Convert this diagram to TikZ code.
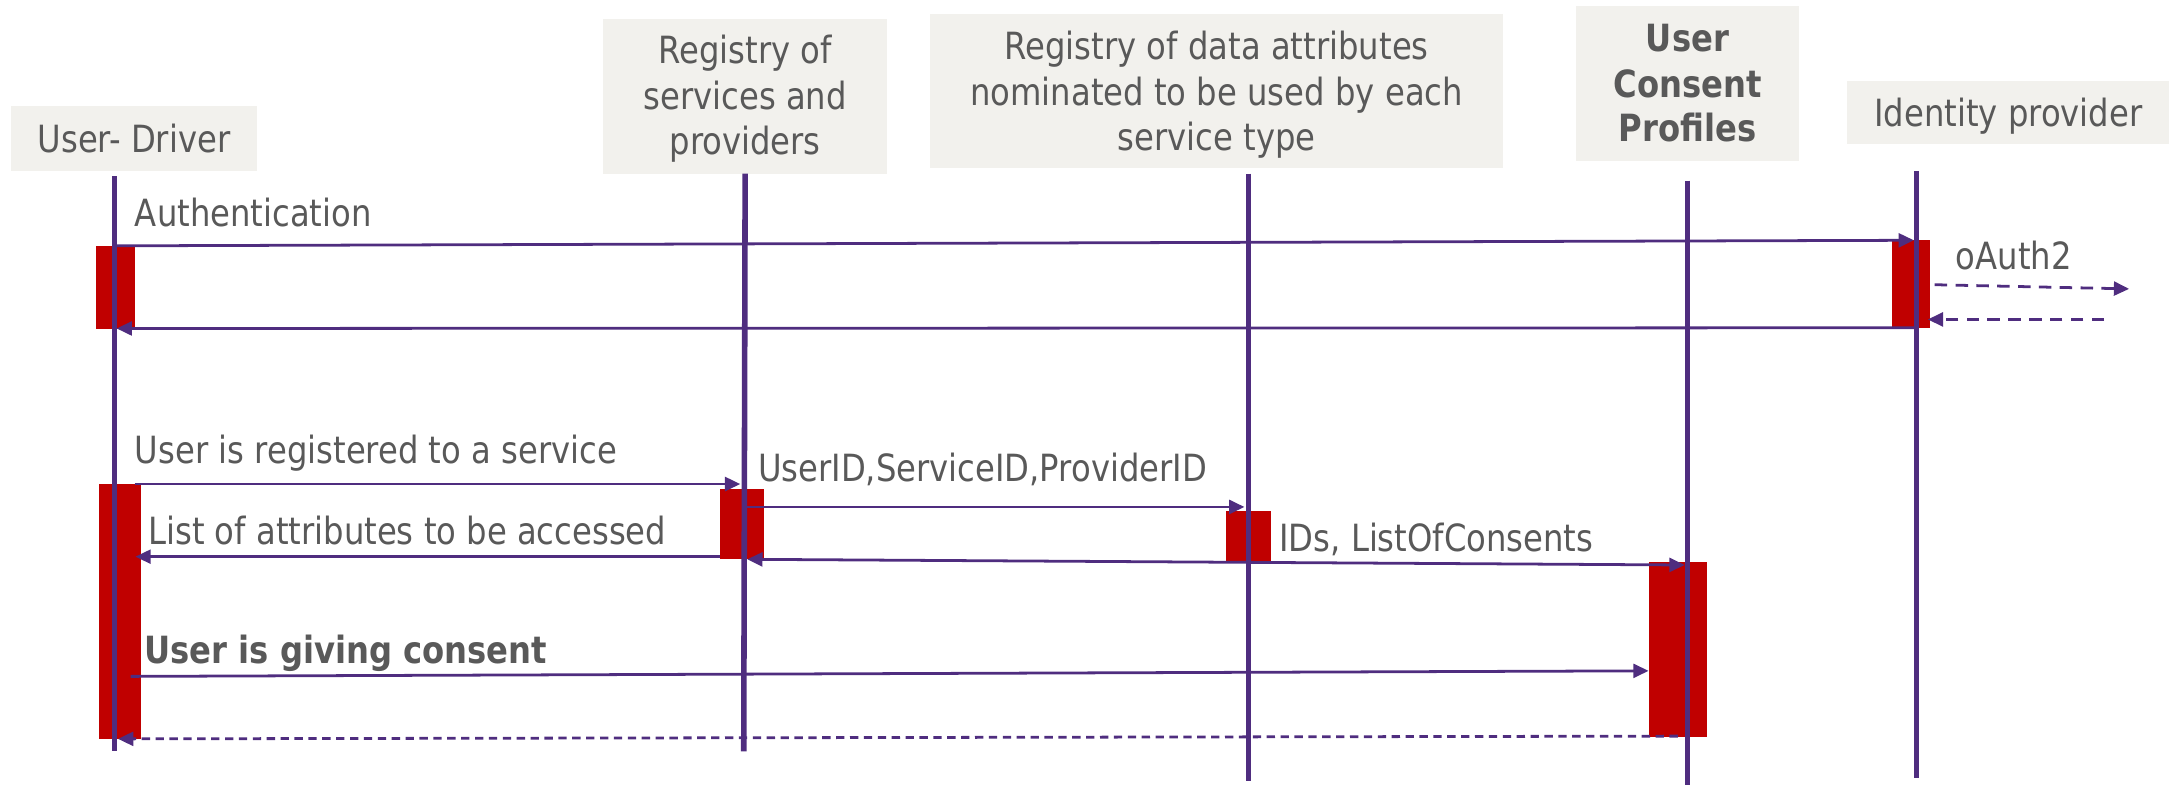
\documentclass[tikz,border=0pt]{standalone}
\usepackage{fontspec}
\setmainfont{DejaVu Sans}[FakeStretch=0.86]
\usetikzlibrary{arrows.meta}
\definecolor{lifec}{HTML}{4F2D7F}
\definecolor{actc}{HTML}{C00000}
\definecolor{boxc}{HTML}{F2F1ED}
\definecolor{txtc}{HTML}{595959}
\tikzset{
  hdr/.style={fill=boxc, draw=none, inner sep=0pt},
  lbl/.style={text=txtc, font=\fontsize{27}{33}\selectfont, inner sep=0pt, anchor=base},
  lblw/.style={lbl, anchor=base west},
  life/.style={draw=lifec, line width=4pt},
  act/.style={fill=actc, draw=none, inner sep=0pt},
  msg/.style={draw=lifec, line width=2pt, -{Triangle[length=11pt,width=10pt]}},
  dmsg/.style={msg, dash pattern=on 6pt off 4pt},
  dmsgb/.style={msg, dash pattern=on 9pt off 6pt},
}
\begin{document}
\begin{tikzpicture}[x=1pt,y=-1pt]
\useasboundingbox (0,0) rectangle (1568.9,565.2);

% header boxes
\node[hdr, minimum width=177pt, minimum height=47pt] (hU) at (96.5,99.5) {};
\node[hdr, minimum width=205pt, minimum height=111pt] (hS) at (536.5,69.5) {};
\node[hdr, minimum width=413pt, minimum height=111pt] (hD) at (876,65.5) {};
\node[hdr, minimum width=160pt, minimum height=112pt] (hC) at (1215,60) {};
\node[hdr, minimum width=232pt, minimum height=46pt] (hI) at (1446,81) {};

% header texts
\node[lbl] (tU) at (96.5,110) {User- Driver};
\node[lbl] (tS1) at (536.5,46) {Registry of};
\node[lbl] (tS2) at (536.5,79) {services and};
\node[lbl] (tS3) at (536.5,111) {providers};
\node[lbl] (tD1) at (876,43) {Registry of data attributes};
\node[lbl] (tD2) at (876,75.6) {nominated to be used by each};
\node[lbl] (tD3) at (876,108) {service type};
\node[lbl, font=\fontsize{27}{33}\selectfont\bfseries] (tC1) at (1215,37) {User};
\node[lbl, font=\fontsize{27}{33}\selectfont\bfseries] (tC2) at (1215,70) {Consent};
\node[lbl, font=\fontsize{27}{33}\selectfont\bfseries] (tC3) at (1215,102) {Profiles};
\node[lbl] (tI) at (1446,91) {Identity provider};

% activation bars
\node[act, minimum width=28pt, minimum height=60pt] (aU1) at (83,207) {};
\node[act, minimum width=27.5pt, minimum height=63pt] (aI1) at (1375.75,204.5) {};
\node[act, minimum width=30.5pt, minimum height=183.5pt] (aU2) at (86.25,440.25) {};
\node[act, minimum width=31.5pt, minimum height=50.5pt] (aS1) at (534.25,377.25) {};
\node[act, minimum width=32pt, minimum height=36pt] (aD1) at (899,386) {};
\node[act, minimum width=42pt, minimum height=126pt] (aC1) at (1208,467.5) {};

% lifelines
\coordinate (lUa) at (82.6,127);  \coordinate (lUb) at (82.6,541);
\coordinate (lSa) at (536.5,125); \coordinate (lSb) at (535.5,541);
\coordinate (lDa) at (899,125);   \coordinate (lDb) at (899,562);
\coordinate (lCa) at (1215,130);  \coordinate (lCb) at (1215,565);
\coordinate (lIa) at (1380,123);  \coordinate (lIb) at (1380,560);
\draw[life] (lUa) -- (lUb);
\draw[life] (lSa) -- (lSb);
\draw[life] (lDa) -- (lDb);
\draw[life] (lCa) -- (lCb);
\draw[life] (lIa) -- (lIb);

% message endpoints
\coordinate (m1a) at (83,177);    \coordinate (m1b) at (1378,173);
\coordinate (m2a) at (1380,236);  \coordinate (m2b) at (84,236.5);
\coordinate (o1a) at (1393,205);  \coordinate (o1b) at (1533,208);
\coordinate (o2a) at (1515,230);  \coordinate (o2b) at (1388,230);
\coordinate (m3a) at (97,348.5);  \coordinate (m3b) at (533,348.5);
\coordinate (m4a) at (538,365);   \coordinate (m4b) at (896,365);
\coordinate (m5a) at (518.5,400.8); \coordinate (m5b) at (97.5,400.8);
\coordinate (m6a) at (538,402.7); \coordinate (m6b) at (1213,406.8);
\coordinate (m7a) at (94,487);    \coordinate (m7b) at (1187,483);
\coordinate (m8a) at (1208,530);  \coordinate (m8b) at (85,532);

\draw[msg] (m1a) -- (m1b);
\draw[msg] (m2a) -- (m2b);
\draw[dmsgb] (o1a) -- (o1b);
\draw[dmsgb] (o2a) -- (o2b);
\draw[msg] (m3a) -- (m3b);
\draw[msg] (m4a) -- (m4b);
\draw[msg] (m5a) -- (m5b);
\draw[msg, {Triangle[length=11pt,width=10pt]}-{Triangle[length=11pt,width=10pt]}] (m6a) -- (m6b);
\draw[msg] (m7a) -- (m7b);
\draw[dmsg] (m8a) -- (m8b);

% message labels
\node[lblw] (l1) at (97,163) {Authentication};
\node[lblw] (l2) at (1408,194) {oAuth2};
\node[lblw] (l3) at (97,333.6) {User is registered to a service};
\node[lblw] (l4) at (545.6,347) {UserID,ServiceID,ProviderID};
\node[lblw] (l5) at (106.6,391.7) {List of attributes to be accessed};
\node[lblw] (l6) at (921,397) {IDs, ListOfConsents};
\node[lblw, font=\fontsize{27}{33}\selectfont\bfseries] (l7) at (103.6,477.6) {User is giving consent};
\end{tikzpicture}
\end{document}
